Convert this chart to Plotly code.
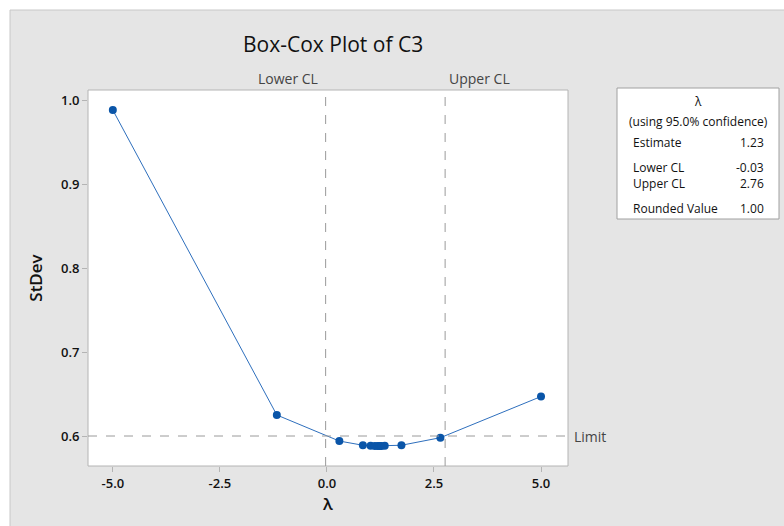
import plotly.graph_objects as go

lam = [-5.0, -1.17, 0.29, 0.84, 1.02, 1.12, 1.19, 1.23, 1.27, 1.35, 1.74, 2.65, 5.0]
stdev = [0.988, 0.625, 0.594, 0.589, 0.5885, 0.588, 0.588, 0.588, 0.588, 0.5885, 0.589, 0.598, 0.647]

lower_cl = -0.03
upper_cl = 2.76
limit = 0.6
x_ticks = [-5.0, -2.5, 0.0, 2.5, 5.0]
y_ticks = [0.6, 0.7, 0.8, 0.9, 1.0]

legend_rows = [("Estimate", "1.23"), ("Lower CL", "-0.03"), ("Upper CL", "2.76"), ("Rounded Value", "1.00")]

FONT = "Open Sans"
W, H = 784, 526
L, R, T, B = 88, 216, 90, 60
pw, ph = W - L - R, H - T - B


def px(x):
    return (x - L) / pw


def py(y):
    return (H - B - y) / ph


fig = go.Figure()
fig.add_trace(go.Scatter(
    x=lam, y=stdev, mode="lines+markers",
    line=dict(color="#2e6fbd", width=1),
    marker=dict(color="#0a55a8", size=8),
    showlegend=False, hoverinfo="skip"))

shapes = [
    dict(type="rect", xref="paper", yref="paper", x0=px(10), x1=px(800), y0=py(10), y1=py(540),
         fillcolor="#e5e5e5", line=dict(color="#c8c8c8", width=1), layer="below"),
    dict(type="rect", xref="paper", yref="paper", x0=0, x1=1, y0=0, y1=1,
         fillcolor="white", line=dict(color="#b4b4b4", width=1), layer="below"),
    dict(type="line", xref="x", yref="paper", x0=lower_cl, x1=lower_cl, y0=0, y1=1,
         line=dict(color="#9a9a9a", width=1, dash="dash")),
    dict(type="line", xref="x", yref="paper", x0=upper_cl, x1=upper_cl, y0=0, y1=1,
         line=dict(color="#9a9a9a", width=1, dash="dash")),
    dict(type="line", xref="paper", yref="y", x0=0, x1=1, y0=limit, y1=limit,
         line=dict(color="#9a9a9a", width=1, dash="dash")),
    dict(type="rect", xref="paper", yref="paper", x0=px(617), x1=px(779), y0=py(88), y1=py(219),
         fillcolor="white", line=dict(color="#a0a0a0", width=1)),
]

LEG = dict(family=FONT, size=12, color="#111", weight=500)
ann = [
    dict(text="Box-Cox Plot of C3", x=px(333), y=py(44), xref="paper", yref="paper",
         showarrow=False, font=dict(family=FONT, size=21, color="#111", weight=500),
         xanchor="center", yanchor="middle"),
    dict(text="Lower CL", x=lower_cl, y=py(78), xref="x", yref="paper", xshift=-6,
         showarrow=False, font=dict(family=FONT, size=14, color="#444"), xanchor="right", yanchor="middle"),
    dict(text="Upper CL", x=upper_cl, y=py(78), xref="x", yref="paper", xshift=2,
         showarrow=False, font=dict(family=FONT, size=14, color="#444"), xanchor="left", yanchor="middle"),
    dict(text="Limit", x=1, y=limit, xref="paper", yref="y", xshift=4,
         showarrow=False, font=dict(family=FONT, size=14, color="#444"), xanchor="left", yanchor="middle"),
    dict(text="λ", x=px(698), y=py(101), xref="paper", yref="paper",
         showarrow=False, font=LEG, xanchor="center", yanchor="middle"),
    dict(text="(using 95.0% confidence)", x=px(698), y=py(121), xref="paper", yref="paper",
         showarrow=False, font=LEG, xanchor="center", yanchor="middle"),
]
row_y = [142, 167, 183, 208]
for (lab, val), yy in zip(legend_rows, row_y):
    ann.append(dict(text=lab, x=px(631), y=py(yy), xref="paper", yref="paper", showarrow=False,
                    font=LEG, xanchor="left", yanchor="middle"))
    ann.append(dict(text=val, x=px(766), y=py(yy), xref="paper", yref="paper", showarrow=False,
                    font=LEG, xanchor="right", yanchor="middle"))

TICKF = dict(family=FONT, size=13, color="#111", weight=600)
fig.update_layout(
    width=W, height=H, margin=dict(l=L, r=R, t=T, b=B),
    paper_bgcolor="white", plot_bgcolor="white",
    shapes=shapes, annotations=ann,
    font=dict(family=FONT, color="#111"),
    xaxis=dict(range=[-5.58, 5.63], tickvals=x_ticks, ticktext=[f"{v:.1f}" for v in x_ticks],
               showgrid=False, zeroline=False, ticks="outside", ticklen=5, tickcolor="#b4b4b4",
               tickfont=TICKF,
               title=dict(text="λ", font=dict(family=FONT, size=17, color="#111", weight=600), standoff=6)),
    yaxis=dict(range=[0.5643, 1.0119], tickvals=y_ticks, ticktext=[f"{v:.1f}" for v in y_ticks],
               showgrid=False, zeroline=False, ticks="outside", ticklen=5, tickcolor="#b4b4b4",
               tickfont=TICKF,
               title=dict(text="StDev", font=dict(family=FONT, size=17, color="#111", weight=600), standoff=14)),
)

fig.write_html("out.html")
